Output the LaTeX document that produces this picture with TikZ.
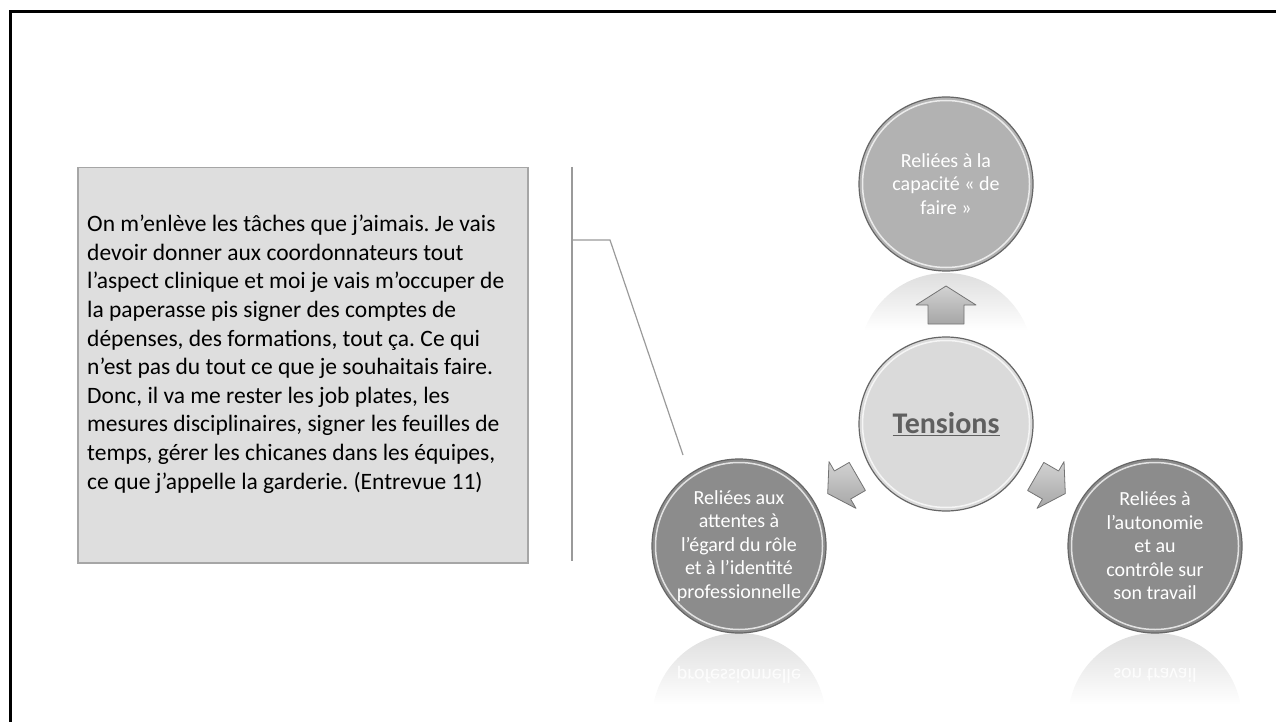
\documentclass[tikz,border=0pt]{standalone}
\usepackage{fontspec}
\setmainfont{Carlito}
\usetikzlibrary{calc, shapes.misc}
\definecolor{boxfill}{HTML}{DEDEDE}
\definecolor{boxline}{HTML}{A6A6A6}
\definecolor{calloutline}{HTML}{9A9A9A}
\definecolor{topfill}{HTML}{B2B2B2}
\definecolor{midfill}{HTML}{DADADA}
\definecolor{lowfill}{HTML}{8C8C8C}
\definecolor{tensiontext}{HTML}{5F5F5F}
\tikzset{
    uparrow/.pic = {
    \draw[arrowbody] (0,-19) -- (30,0) -- (18,0) -- (18,19) -- (-18,19) -- (-18,0) -- (-30,0) -- cycle;
    },
    arrowbody/.style={top color=gray!35, bottom color=gray!70, draw=black!55, line width=0.8pt, line join=round},
    bubble/.style={circle, minimum size=174pt, inner sep=0pt, draw=black!60, line width=1.2pt, text=white, align=center, font=\fontsize{20}{23.5}\selectfont},
    rim/.style={draw=white, line width=1.5pt, opacity=0.75},
    glow/.style={top color=black!13, bottom color=white},
    mirror/.style={yscale=-1, transform shape, text=white, opacity=0.85, font=\fontsize{20}{23.5}\selectfont},
    callout/.style={draw=calloutline, line width=1.2pt},
}
\begin{document}
\begin{tikzpicture}[x=1pt, y=-1pt]
    \useasboundingbox (0,0) rectangle (1276,722);
    \draw[line width=3pt] (10.5,722) -- (10.5,12) -- (1276,12);

    % quote
    \node[draw=boxline, fill=boxfill, line width=1.5pt, minimum width=450pt, minimum height=395pt, anchor=north west] (quotebox) at (77,167) {};
    \node[anchor=north west, inner sep=0pt, align=left, font=\fontsize{23.5}{28.6}\selectfont\frenchspacing] (quote) at (87,215) {%
        On m’enlève les tâches que j’aimais. Je vais\\
        devoir donner aux coordonnateurs tout\\
        l’aspect clinique et moi je vais m’occuper de\\
        la paperasse pis signer des comptes de\\
        dépenses, des formations, tout ça. Ce qui\\
        n’est pas du tout ce que je souhaitais faire.\\
        Donc, il va me rester les job plates, les\\
        mesures disciplinaires, signer les feuilles de\\
        temps, gérer les chicanes dans les équipes,\\
        ce que j’appelle la garderie. (Entrevue 11)};

    % reflections
    \begin{scope}
        \clip (946,360) circle (87);
        \shade[glow] (850,273) rectangle (1042,330);
    \end{scope}
    \begin{scope}
        \clip (739,720) circle (87);
        \shade[glow] (640,633) rectangle (840,705);
    \end{scope}
    \begin{scope}
        \clip (1155,720) circle (87);
        \shade[glow] (1056,633) rectangle (1256,705);
    \end{scope}
    \node[mirror] (attentesmirror) at (739,675) {professionnelle};
    \node[mirror] (autonomiemirror) at (1155,675) {son travail};

    % bubbles
    \node[bubble, fill=topfill] (capacite) at (946,184) {Reliées à la\\capacité « de\\faire »};
    \node[bubble, fill=midfill, text=tensiontext, font=\fontsize{30}{34}\selectfont\bfseries] (tension) at (946,424) {\underline{Tensions}};
    \node[bubble, fill=lowfill] (attentes) at (739,546) {Reliées aux\\attentes à\\l’égard du rôle\\et à l’identité\\professionnelle};
    \node[bubble, fill=lowfill] (autonomie) at (1155,546) {Reliées à\\l'autonomie\\et au\\contrôle sur\\son travail};
    \foreach \n in {capacite, tension, attentes, autonomie}
        \draw[rim] (\n.center) circle (83.5);

    % arrows
    \coordinate (arrowup) at (946,305);
    \path (arrowup) pic {uparrow};
    \path ($(tension)!0.5!(attentes)$) pic[rotate=120, scale=0.9] {uparrow};
    \path ($(tension)!0.5!(autonomie)$) pic[rotate=-120, scale=0.9] {uparrow};

    % callout
    \coordinate (bartop) at (572,167);
    \coordinate (barbot) at (572,561);
    \coordinate (elbowa) at (572,240);
    \coordinate (elbowb) at (610,240);
    \coordinate (calloutend) at (683,455);
    \draw[callout] (bartop) -- (barbot);
    \draw[callout] (elbowa) -- (elbowb) -- (calloutend);
\end{tikzpicture}
\end{document}
